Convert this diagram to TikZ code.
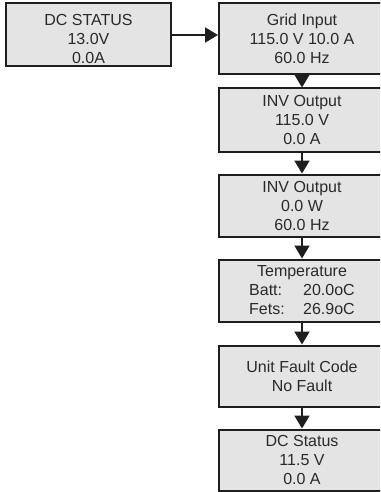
\documentclass[tikz,border=0pt]{standalone}
\usepackage{fontspec}
\setmainfont{Liberation Sans}
\usetikzlibrary{arrows.meta}
\definecolor{boxfill}{HTML}{E4E4E4}
\definecolor{boxline}{HTML}{1E1E1E}
\definecolor{txt}{HTML}{2A2A2A}
\tikzset{
  stbox/.style={draw=boxline, line width=2pt, fill=boxfill, rectangle,
    minimum width=166pt, inner sep=0pt, align=center, text=txt,
    font=\fontsize{16}{19}\selectfont},
  arr/.style={draw=boxline, line width=2pt, -{Triangle[length=13pt,width=15pt]}}
}
\begin{document}
\begin{tikzpicture}[x=1pt,y=-1pt]
\useasboundingbox (0,0) rectangle (380,492);
\clip (0,0) rectangle (380,492);
\node[stbox, minimum width=165pt, minimum height=63pt] (dc) at (88.5,35) {};
\node[align=center, text=txt, font=\fontsize{16}{19}\selectfont, inner sep=0pt] (dctxt) at (88.5,39) {DC STATUS\\13.0V\\0.0A};
\node[stbox, minimum height=71pt] (grid) at (302,39) {Grid Input\\115.0 V 10.0 A\\60.0 Hz};
\node[stbox, minimum height=63pt] (inv1) at (302,120) {INV Output\\115.0 V\\0.0 A};
\node[stbox, minimum height=62pt] (inv2) at (302,205.5) {INV Output\\0.0 W\\60.0 Hz};
\node[stbox, minimum height=62pt] (temp) at (302,290.5) {Temperature\\\makebox[54pt][l]{Batt:}20.0oC\\\makebox[54pt][l]{Fets:}26.9oC};
\node[stbox, minimum height=61pt] (fault) at (302,376) {Unit Fault Code\\No Fault};
\node[stbox, minimum height=61pt] (dcs) at (302,460) {DC Status\\11.5 V\\0.0 A};
\draw[arr] (dc.east) -- (dc.east -| grid.west);
\draw[arr] (grid.south) -- (inv1.north);
\draw[arr] (inv1.south) -- (inv2.north);
\draw[arr] (inv2.south) -- (temp.north);
\draw[arr] (temp.south) -- (fault.north);
\draw[arr] (fault.south) -- (dcs.north);
\end{tikzpicture}
\end{document}
